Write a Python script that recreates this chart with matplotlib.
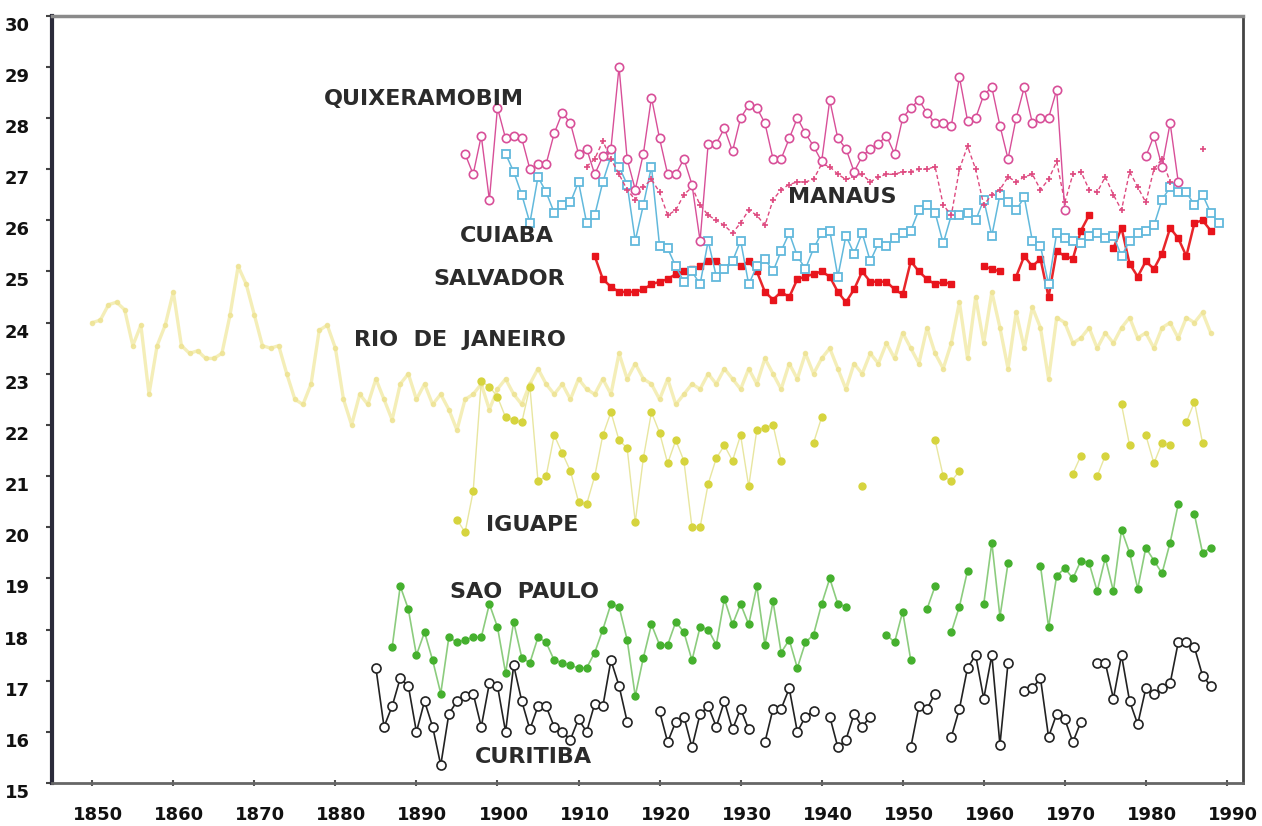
import numpy as np
import matplotlib
matplotlib.use("Agg")
import matplotlib.pyplot as plt
from matplotlib.transforms import ScaledTranslation

nan = np.nan

# annual mean temperatures (deg C), one list per station
quixeramobim_start = 1896
quixeramobim = [
    27.3, 26.9, 27.65, 26.4,
    28.2, 27.6, 27.65, 27.6, 27.0, 27.1, 27.1, 27.7, 28.1, 27.9,
    27.3, 27.4, 26.9, 27.25, 27.4, 29.0, 27.2, 26.6, 27.3, 28.4,
    27.6, 26.9, 26.9, 27.2, 26.7, 25.6, 27.5, 27.5, 27.8, 27.35,
    28.0, 28.25, 28.2, 27.9, 27.2, 27.2, 27.6, 28.0, 27.7, 27.45,
    27.15, 28.35, 27.6, 27.4, 26.95, 27.25, 27.4, 27.5, 27.65, 27.3,
    28.0, 28.2, 28.35, 28.1, 27.9, 27.9, 27.85, 28.8, 27.95, 28.0,
    28.45, 28.6, 27.85, 27.2, 28.0, 28.6, 27.9, 28.0, 28.0, 28.55,
    26.2, nan, nan, nan, nan, nan, nan, nan, nan, nan,
    27.25, 27.65, 27.05, 27.9, 26.75,
]

manaus_start = 1911
manaus = [
    27.05, 27.2, 27.55, 27.2, 26.9, 26.6, 26.4, 26.65, 26.8,
    26.55, 26.1, 26.2, 26.5, 26.65, 26.3, 26.1, 26.0, 25.9, 25.75,
    25.95, 26.2, 26.1, 25.9, 26.4, 26.6, 26.7, 26.75, 26.75, 26.8,
    27.1, 27.05, 26.9, 26.8, 26.85, 26.9, 26.75, 26.85, 26.9, 26.9,
    26.95, 26.95, 27.0, 27.0, 27.05, 26.3, 26.1, 27.0, 27.45, 27.0,
    26.3, 26.5, 26.6, 26.85, 26.75, 26.85, 26.9, 26.6, 26.8, 27.15,
    26.35, 26.9, 26.95, 26.6, 26.55, 26.85, 26.5, 26.2, 26.95, 26.65,
    26.35, 27.0, 27.2, 26.75, nan, nan, nan, 27.4,
]

cuiaba_start = 1901
cuiaba = [
    27.3, 26.95, 26.5, 25.95, 26.85, 26.55, 26.15, 26.3, 26.35,
    26.75, 25.95, 26.1, 26.75, 27.25, 27.05, 26.7, 25.6, 26.3, 27.05,
    25.5, 25.45, 25.1, 24.8, 25.0, 24.75, 25.6, 24.9, 25.05, 25.2,
    25.6, 24.75, 25.1, 25.25, 25.0, 25.4, 25.75, 25.3, 25.05, 25.45,
    25.75, 25.8, 24.9, 25.7, 25.35, 25.75, 25.2, 25.55, 25.5, 25.65,
    25.75, 25.8, 26.2, 26.3, 26.15, 25.55, 26.1, 26.1, 26.15, 26.0,
    26.4, 25.7, 26.5, 26.35, 26.2, 26.45, 25.6, 25.5, 24.75, 25.75,
    25.65, 25.6, 25.55, 25.7, 25.75, 25.65, 25.7, 25.3, 25.6, 25.75,
    25.8, 25.9, 26.4, 26.65, 26.55, 26.55, 26.3, 26.5, 26.15, 25.95,
]

salvador_start = 1912
salvador = [
    25.3, 24.85, 24.7, 24.6, 24.6, 24.6, 24.65, 24.75,
    24.8, 24.85, 24.95, 25.0, 25.05, 25.1, 25.2, 25.2, 25.05, 25.2,
    25.1, 25.2, 25.0, 24.6, 24.45, 24.6, 24.5, 24.85, 24.9, 24.95,
    25.0, 24.9, 24.6, 24.4, 24.65, 25.0, 24.8, 24.8, 24.8, 24.65,
    24.55, 25.2, 25.0, 24.85, 24.75, 24.8, 24.75, nan, nan, nan,
    25.1, 25.05, 25.0, nan, 24.9, 25.3, 25.1, 25.25, 24.5, 25.4,
    25.3, 25.25, 25.8, 26.1, nan, nan, 25.45, 25.85, 25.15, 24.9,
    25.2, 25.05, 25.35, 25.85, 25.65, 25.3, 25.95, 26.0, 25.8,
]

rio_start = 1850
rio = [
    24.0, 24.05, 24.35, 24.4, 24.25, 23.55, 23.95, 22.6, 23.55, 23.95,
    24.6, 23.55, 23.4, 23.45, 23.3, 23.3, 23.4, 24.15, 25.1, 24.75,
    24.15, 23.55, 23.5, 23.55, 23.0, 22.5, 22.4, 22.8, 23.85, 23.95,
    23.5, 22.5, 22.0, 22.6, 22.4, 22.9, 22.5, 22.1, 22.8, 23.0,
    22.5, 22.8, 22.4, 22.6, 22.3, 21.9, 22.5, 22.6, 22.8, 22.3,
    22.7, 22.9, 22.6, 22.4, 22.8, 23.1, 22.8, 22.6, 22.8, 22.5,
    22.9, 22.7, 22.6, 22.9, 22.6, 23.4, 22.9, 23.2, 22.9, 22.8,
    22.5, 22.9, 22.4, 22.6, 22.8, 22.7, 23.0, 22.8, 23.1, 22.9,
    22.7, 23.1, 22.8, 23.3, 23.0, 22.7, 23.2, 22.9, 23.4, 23.0,
    23.3, 23.5, 23.1, 22.7, 23.2, 23.0, 23.4, 23.2, 23.6, 23.3,
    23.8, 23.5, 23.2, 23.9, 23.4, 23.1, 23.6, 24.4, 23.3, 24.5,
    23.6, 24.6, 23.9, 23.1, 24.2, 23.5, 24.3, 23.9, 22.9, 24.1,
    24.0, 23.6, 23.7, 23.9, 23.5, 23.8, 23.6, 23.9, 24.1, 23.7,
    23.8, 23.5, 23.9, 24.0, 23.7, 24.1, 24.0, 24.2, 23.8,
]

iguape_start = 1895
iguape = [
    20.15, 19.9, 20.7, 22.85, 22.75,
    22.55, 22.15, 22.1, 22.05, 22.75, 20.9, 21.0, 21.8, 21.45, 21.1,
    20.5, 20.45, 21.0, 21.8, 22.25, 21.7, 21.55, 20.1, 21.35, 22.25,
    21.85, 21.25, 21.7, 21.3, 20.0, 20.0, 20.85, 21.35, 21.6, 21.3,
    21.8, 20.8, 21.9, 21.95, 22.0, 21.3, nan, nan, nan, 21.65,
    22.15, nan, nan, nan, nan, 20.8, nan, nan, nan, nan,
    nan, nan, nan, nan, 21.7, 21.0, 20.9, 21.1, nan, nan,
    nan, nan, nan, nan, nan, nan, nan, nan, nan, nan,
    nan, 21.05, 21.4, nan, 21.0, 21.4, nan, 22.4, 21.6, nan,
    21.8, 21.25, 21.65, 21.6, nan, 22.05, 22.45, 21.65,
]

sao_paulo_start = 1887
sao_paulo = [
    17.65, 18.85, 18.4,
    17.5, 17.95, 17.4, 16.75, 17.85, 17.75, 17.8, 17.85, 17.85, 18.5,
    18.05, 17.15, 18.15, 17.45, 17.35, 17.85, 17.75, 17.4, 17.35, 17.3,
    17.25, 17.25, 17.55, 18.0, 18.5, 18.45, 17.8, 16.7, 17.45, 18.1,
    17.7, 17.7, 18.15, 17.95, 17.4, 18.05, 18.0, 17.7, 18.6, 18.1,
    18.5, 18.1, 18.85, 17.7, 18.55, 17.55, 17.8, 17.25, 17.75, 17.9,
    18.5, 19.0, 18.5, 18.45, nan, nan, nan, nan, 17.9, 17.75,
    18.35, 17.4, nan, 18.4, 18.85, nan, 17.95, 18.45, 19.15, nan,
    18.5, 19.7, 18.25, 19.3, nan, nan, nan, 19.25, 18.05, 19.05,
    19.2, 19.0, 19.35, 19.3, 18.75, 19.4, 18.75, 19.95, 19.5, 18.8,
    19.6, 19.35, 19.1, 19.7, 20.45, nan, 20.25, 19.5, 19.6,
]

curitiba_start = 1885
curitiba = [
    17.25, 16.1, 16.5, 17.05, 16.9,
    16.0, 16.6, 16.1, 15.35, 16.35, 16.6, 16.7, 16.75, 16.1, 16.95,
    16.9, 16.0, 17.3, 16.6, 16.05, 16.5, 16.5, 16.1, 16.0, 15.85,
    16.25, 16.0, 16.55, 16.5, 17.4, 16.9, 16.2, nan, nan, nan,
    16.4, 15.8, 16.2, 16.3, 15.7, 16.35, 16.5, 16.1, 16.6, 16.05,
    16.45, 16.05, nan, 15.8, 16.45, 16.45, 16.85, 16.0, 16.3, 16.4,
    nan, 16.3, 15.7, 15.85, 16.35, 16.1, 16.3, nan, nan, nan,
    nan, 15.7, 16.5, 16.45, 16.75, nan, 15.9, 16.45, 17.25, 17.5,
    16.65, 17.5, 15.75, 17.35, nan, 16.8, 16.85, 17.05, 15.9, 16.35,
    16.25, 15.8, 16.2, nan, 17.35, 17.35, 16.65, 17.5, 16.6, 16.15,
    16.85, 16.75, 16.85, 16.95, 17.75, 17.75, 17.65, 17.1, 16.9,
]

station_names = ["QUIXERAMOBIM", "MANAUS", "CUIABA", "SALVADOR",
                 "RIO  DE  JANEIRO", "IGUAPE", "SAO  PAULO", "CURITIBA"]
label_year = [1878.6, 1935.8, 1895.3, 1892.1, 1882.3, 1898.6, 1894.1, 1897.2]
label_temp = [28.37, 26.45, 25.7, 24.85, 23.67, 20.05, 18.74, 15.5]


def years(start, vals):
    return np.arange(start, start + len(vals))


fig = plt.figure(figsize=(12.62, 8.26), dpi=100)
ax = fig.add_axes([0.041, 0.052, 0.944, 0.929])

# Rio: pale, blurry yellow
ax.plot(years(rio_start, rio), rio, color="#f2eaa6", lw=2.4, marker="o",
        ms=3, mfc="#eee393", mec="#eee393", alpha=0.8, zorder=1)
# Iguape: yellow-green dots
ax.plot(years(iguape_start, iguape), iguape, color="#e8e6a0", lw=1.0,
        marker="o", ms=5, mfc="#d6d43e", mec="#d6d43e", zorder=2)
# Sao Paulo: green dots
ax.plot(years(sao_paulo_start, sao_paulo), sao_paulo, color="#8ccc7e", lw=1.2,
        marker="o", ms=5, mfc="#45b02e", mec="#45b02e", zorder=3)
# Curitiba: black open circles
ax.plot(years(curitiba_start, curitiba), curitiba, color="#222222", lw=1.2,
        marker="o", ms=6.5, mfc="white", mec="#222222", mew=1.2, zorder=4)
# Salvador: red filled squares
ax.plot(years(salvador_start, salvador), salvador, color="#e8262b", lw=1.8,
        marker="s", ms=5, mfc="#e8141c", mec="#e8141c", zorder=5)
# Cuiaba: light blue open squares
ax.plot(years(cuiaba_start, cuiaba), cuiaba, color="#62b9dc", lw=1.1,
        marker="s", ms=5.5, mfc="white", mec="#62b9dc", mew=1.3, zorder=6)
# Manaus: dashed magenta with small crosses
ax.plot(years(manaus_start, manaus), manaus, color="#de4a80", lw=1.0,
        ls=(0, (3, 2)), marker="+", ms=4, mew=1.2, zorder=7)
# Quixeramobim: pink open circles
ax.plot(years(quixeramobim_start, quixeramobim), quixeramobim, color="#d84f98",
        lw=1.0, marker="o", ms=6, mfc="white", mec="#d84f98", mew=1.2, zorder=8)

for name, xl, yl in zip(station_names, label_year, label_temp):
    ax.text(xl, yl, name, fontsize=16, fontweight="bold", color="#2b2b2b",
            ha="left", va="center", zorder=10)

ax.set_xlim(1845, 1992)
ax.set_ylim(15, 30)
ax.set_xticks(np.arange(1850, 1991, 10))
ax.set_yticks(np.arange(15, 31, 1))

ax.tick_params(axis="y", direction="out", length=4, width=1.5, color="#444444",
               labelsize=13, pad=12)
ax.tick_params(axis="x", direction="inout", length=5, width=1.5, color="#555555",
               labelsize=13, pad=14)
for lab in ax.get_yticklabels() + ax.get_xticklabels():
    lab.set_fontweight("bold")
    lab.set_color("#111111")
for lab in ax.get_yticklabels():
    lab.set_transform(lab.get_transform() + ScaledTranslation(0, -0.08, fig.dpi_scale_trans))
for lab in ax.get_xticklabels():
    lab.set_transform(lab.get_transform() + ScaledTranslation(0.06, 0, fig.dpi_scale_trans))

ax.spines["left"].set_color("#2b2b3a")
ax.spines["left"].set_linewidth(3)
ax.spines["bottom"].set_color("#666666")
ax.spines["bottom"].set_linewidth(2)
ax.spines["top"].set_color("#8a8a8a")
ax.spines["top"].set_linewidth(2.5)
ax.spines["right"].set_color("#444444")
ax.spines["right"].set_linewidth(2)

fig.savefig("out.png", dpi=100)
